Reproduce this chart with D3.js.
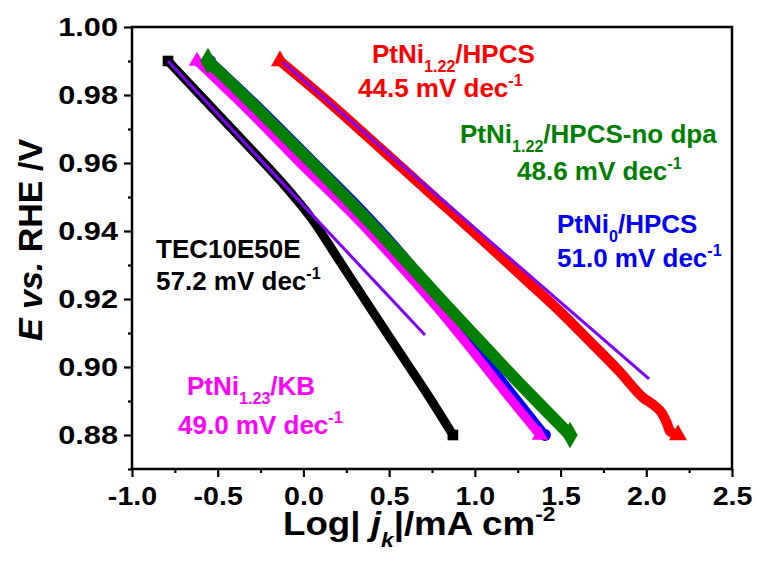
<!DOCTYPE html>
<html lang="en">
<head>
    <meta charset="UTF-8">
    <title>Tafel plots</title>
    <style>
        body {
            margin: 0;
            background: #fff;
        }
        svg text {
            font-family: 'Liberation Sans', Arial, sans-serif;
            font-weight: bold;
        }
    </style>
    <script src="https://d3js.org/d3.v7.min.js"></script>
</head>
<body>
<div id="chart"></div>
<script>
    // curves: [log|jk|, E]
    var tec10e50e = [[-0.79, 0.99], [-0.545, 0.9769], [-0.312, 0.9644], [-0.1, 0.9528], [0.05, 0.9435],
        [0.2, 0.932], [0.388, 0.9175], [0.581, 0.9028], [0.738, 0.8908], [0.872, 0.88]];
    var ptni0 = [[-0.545, 0.99], [-0.242, 0.9756], [0.05, 0.9609], [0.33, 0.9468], [0.581, 0.9329],
        [0.802, 0.9191], [1.007, 0.9059], [1.211, 0.8926], [1.409, 0.88]];
    var ptni123kb = [[-0.621, 0.99], [-0.312, 0.975], [-0.02, 0.96], [0.272, 0.9456], [0.534, 0.9315],
        [0.767, 0.9182], [0.972, 0.9056], [1.176, 0.8926], [1.38, 0.88]];
    var ptni122nodpa = [[-0.557, 0.99], [-0.35, 0.98], [-0.15, 0.97], [0.05, 0.96], [0.245, 0.95],
        [0.435, 0.94], [0.62, 0.93], [0.8, 0.92], [0.985, 0.91], [1.17, 0.90], [1.36, 0.89], [1.555, 0.88]];
    var ptni122 = [[-0.137, 0.99], [0.155, 0.9776], [0.447, 0.9644], [0.738, 0.9512], [1.03, 0.938],
        [1.322, 0.9245], [1.514, 0.9155], [1.672, 0.9075], [1.847, 0.8985], [1.981, 0.891], [2.051, 0.8885],
        [2.09, 0.8865], [2.12, 0.8835], [2.14, 0.881], [2.185, 0.88]];

    // linear Tafel fits
    var tecFit = [[-0.79, 0.99], [0.709, 0.9094]];
    var ptni122Fit = [[-0.12, 0.9897], [2.016, 0.8965]];

    var xTicks = [-1.0, -0.5, 0.0, 0.5, 1.0, 1.5, 2.0, 2.5];
    var xMinor = [-0.75, -0.25, 0.25, 0.75, 1.25, 1.75, 2.25];
    var yTicks = [0.88, 0.90, 0.92, 0.94, 0.96, 0.98, 1.00];
    var yMinor = [0.87, 0.89, 0.91, 0.93, 0.95, 0.97, 0.99];

    var width = 760, height = 562;
    var plotL = 132, plotR = 732, plotT = 27, plotB = 469;

    var x = d3.scaleLinear().domain([-1, 2.5]).range([plotL, plotR]);
    var y = d3.scaleLinear().domain([0.87, 1.00]).range([plotB, plotT]);

    var svg = d3.select("#chart").append("svg")
        .attr("width", width)
        .attr("height", height);

    var line = d3.line()
        .x(function(d) { return x(d[0]); })
        .y(function(d) { return y(d[1]); })
        .curve(d3.curveMonotoneX);

    // plain hyphen instead of d3's unicode minus
    function fmt(p) {
        var f = d3.format(p);
        return function(v) { return f(v).replace("\u2212", "-"); };
    }

    // stretch labels a little, like the original
    function widen(sel, k) {
        sel.each(function() {
            var w = this.getComputedTextLength();
            d3.select(this).attr("textLength", w * k).attr("lengthAdjust", "spacingAndGlyphs");
        });
    }

    // x axis
    var xAxis = svg.append("g")
        .attr("transform", "translate(0," + plotB + ")")
        .call(d3.axisBottom(x).tickValues(xTicks).tickSize(8).tickPadding(10).tickFormat(fmt(".1f")));
    svg.append("g")
        .attr("transform", "translate(0," + plotB + ")")
        .call(d3.axisBottom(x).tickValues(xMinor).tickSize(4).tickFormat(""));

    // y axis
    var yAxis = svg.append("g")
        .attr("transform", "translate(" + plotL + ",0)")
        .call(d3.axisLeft(y).tickValues(yTicks).tickSize(8).tickPadding(6).tickFormat(fmt(".2f")));
    svg.append("g")
        .attr("transform", "translate(" + plotL + ",0)")
        .call(d3.axisLeft(y).tickValues(yMinor).tickSize(4).tickFormat(""));

    svg.selectAll(".domain").remove();
    svg.selectAll(".tick line").attr("stroke", "#000").attr("stroke-width", 2.2);
    xAxis.selectAll("text").attr("font-size", 26).attr("fill", "#000").call(widen, 1.1);
    yAxis.selectAll("text").attr("font-size", 26).attr("fill", "#000").attr("dy", "0.34em").call(widen, 1.18);

    // curves, drawn in the stacking order of the original
    var series = [
        { data: tec10e50e, color: "#000000", w: 9, sym: d3.symbolSquare },
        { data: ptni0, color: "#0000ff", w: 9, sym: d3.symbolCircle },
        { data: ptni123kb, color: "#ff00ff", w: 9, sym: d3.symbolTriangle },
        { data: ptni122nodpa, color: "#008000", w: 12, sym: d3.symbolDiamond },
        { data: ptni122, color: "#ff0000", w: 10, sym: d3.symbolTriangle }
    ];

    series.forEach(function(s) {
        svg.append("path")
            .datum(s.data)
            .attr("d", line)
            .attr("fill", "none")
            .attr("stroke", s.color)
            .attr("stroke-width", s.w)
            .attr("stroke-linejoin", "round");
        var ends = [s.data[0], s.data[s.data.length - 1]];
        svg.selectAll(null)
            .data(ends)
            .enter()
            .append("path")
            .attr("d", d3.symbol().type(s.sym).size(s.w * s.w * 1.4))
            .attr("transform", function(d) { return "translate(" + x(d[0]) + "," + y(d[1]) + ")"; })
            .attr("fill", s.color);
        if (s.data === tec10e50e) {
            svg.append("path")
                .datum(tecFit)
                .attr("d", line)
                .attr("stroke", "#8000ff")
                .attr("stroke-width", 3)
                .attr("fill", "none");
        }
    });

    svg.append("path")
        .datum(ptni122Fit)
        .attr("d", line)
        .attr("stroke", "#8000ff")
        .attr("stroke-width", 3)
        .attr("fill", "none");

    // frame
    svg.append("rect")
        .attr("x", plotL)
        .attr("y", plotT)
        .attr("width", plotR - plotL)
        .attr("height", plotB - plotT)
        .attr("fill", "none")
        .attr("stroke", "#000")
        .attr("stroke-width", 2.5);

    // text helper: parts = [text, kind] with kind n / sub / sup / i / isub
    function richText(px, py, parts, color, size) {
        var t = svg.append("text")
            .attr("x", px)
            .attr("y", py)
            .attr("fill", color)
            .attr("font-size", size);
        var shift = 0;
        parts.forEach(function(p) {
            var ts = t.append("tspan").text(p[0]);
            var target = 0;
            if (p[1] === "sub") { target = size * 0.34; ts.attr("font-size", size * 0.62); }
            if (p[1] === "sup") { target = -size * 0.42; ts.attr("font-size", size * 0.62); }
            if (p[1] === "i") ts.attr("font-style", "italic");
            if (p[1] === "isub") { target = size * 0.34; ts.attr("font-size", size * 0.62).attr("font-style", "italic"); }
            ts.attr("dy", target - shift);
            shift = target;
        });
        return t;
    }

    var lab = 26;
    richText(372, 63, [["PtNi", "n"], ["1.22", "sub"], ["/HPCS", "n"]], "#ff0000", lab);
    richText(358, 97, [["44.5 mV dec", "n"], ["-1", "sup"]], "#ff0000", lab);

    richText(460, 143, [["PtNi", "n"], ["1.22", "sub"], ["/HPCS-no dpa", "n"]], "#008000", lab);
    richText(517, 180, [["48.6 mV dec", "n"], ["-1", "sup"]], "#008000", lab);

    richText(557, 233, [["PtNi", "n"], ["0", "sub"], ["/HPCS", "n"]], "#0000ff", lab);
    richText(557, 267, [["51.0 mV dec", "n"], ["-1", "sup"]], "#0000ff", lab);

    richText(156, 258, [["TEC10E50E", "n"]], "#000000", lab);
    richText(156, 290, [["57.2 mV dec", "n"], ["-1", "sup"]], "#000000", lab);

    richText(187, 395, [["PtNi", "n"], ["1.23", "sub"], ["/KB", "n"]], "#ff00ff", lab);
    richText(178, 434, [["49.0 mV dec", "n"], ["-1", "sup"]], "#ff00ff", lab);

    // axis titles
    richText(283, 535, [["Log| ", "n"], ["j", "i"], ["k", "isub"], ["|/mA cm", "n"], ["-2", "sup"]], "#000", 34)
        .call(widen, 1.08);

    richText(0, 0, [["E", "i"], [" vs.", "i"], [" RHE /V", "n"]], "#000", 34)
        .attr("text-anchor", "middle")
        .attr("transform", "translate(42,240) rotate(-90)");
</script>
</body>
</html>
